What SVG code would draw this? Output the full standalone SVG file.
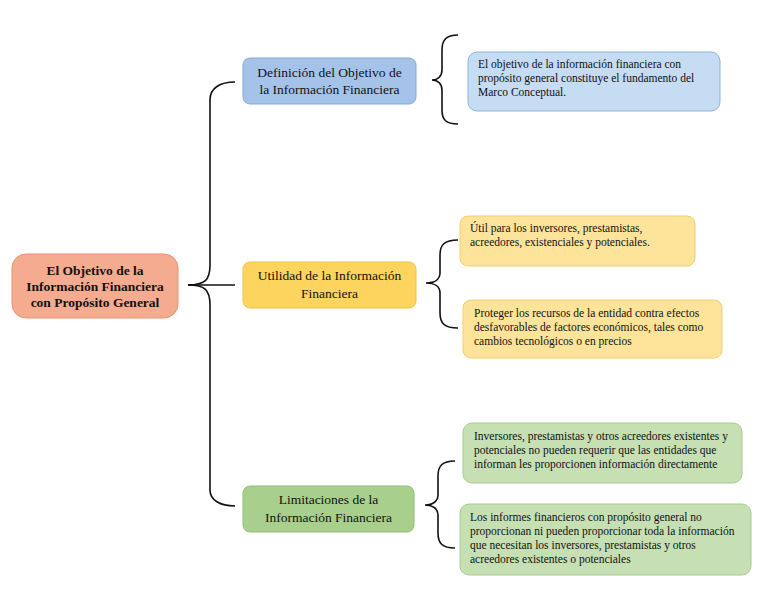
<svg xmlns="http://www.w3.org/2000/svg" width="768" height="594" viewBox="0 0 768 594">
<style>
text{font-family:"Liberation Serif","Times New Roman",serif;fill:#111}
.n{font-size:13.5px;text-anchor:middle}
.t{font-size:11.5px}
.c{fill:none;stroke:#111;stroke-width:1.6}
</style>
<rect width="768" height="594" fill="#fff"/>
<g id="connectors">
<path class="c" d="M188,285 C205,285 210,280 210,265 L210,100 C210,88 220,82 235,82"/>
<path class="c" d="M188,285 C205,285 210,290 210,305 L210,490 C210,500 220,506 235,506"/>
<path class="c" d="M188,285 L235,285"/>
<path class="c" d="M458,35 C446,35 442,40 442,50 L442,70 C442,76 438,80 432,80 C438,80 442,84 442,90 L442,110 C442,120 446,124 458,124"/>
<path class="c" d="M458,240 C444,240 440,245 440,255 L440,273 C440,279 435,283 426,283 C435,283 440,287 440,293 L440,313 C440,323 444,328 458,328"/>
<path class="c" d="M455,461 C442,461 438,466 438,476 L438,495 C438,501 433,505 425,505 C433,505 438,509 438,515 L438,533 C438,543 442,548 455,548"/>
</g>
<g id="root"><rect x="12" y="254" width="166" height="64" rx="14" fill="#f5ab8f" stroke="#e9916e"/>
<text class="n" font-weight="bold" x="95" y="275">El Objetivo de la</text>
<text class="n" font-weight="bold" x="95" y="291">Información Financiera</text>
<text class="n" font-weight="bold" x="95" y="307">con Propósito General</text></g>
<g id="n1"><rect x="243" y="58" width="173" height="46" rx="7" fill="#a5c3e9" stroke="#82a8d6"/>
<text class="n" x="329.5" y="77">Definición del Objetivo de</text>
<text class="n" x="329.5" y="94">la Información Financiera</text></g>
<g id="n2"><rect x="243" y="262" width="173" height="46" rx="7" fill="#fdd45d" stroke="#f0c34a"/>
<text class="n" x="329.5" y="280">Utilidad de la Información</text>
<text class="n" x="329.5" y="298">Financiera</text></g>
<g id="n3"><rect x="243" y="486" width="171" height="46" rx="7" fill="#a8d08c" stroke="#8fbf73"/>
<text class="n" x="328.5" y="504">Limitaciones de la</text>
<text class="n" x="328.5" y="522">Información Financiera</text></g>
<g id="b1"><rect x="468" y="52" width="252" height="59" rx="9" fill="#c6dcf2" stroke="#8fb3dd"/>
<text class="t" x="478" y="68">El objetivo de la información financiera con</text>
<text class="t" x="478" y="82">propósito general constituye el fundamento del</text>
<text class="t" x="478" y="96">Marco Conceptual.</text></g>
<g id="b2"><rect x="460" y="216" width="235" height="50" rx="8" fill="#fee49a" stroke="#f2cf6a"/>
<text class="t" x="470" y="232">Útil para los inversores, prestamistas,</text>
<text class="t" x="470" y="246">acreedores, existenciales y potenciales.</text></g>
<g id="b3"><rect x="463" y="300" width="259" height="58" rx="8" fill="#fee49a" stroke="#f2cf6a"/>
<text class="t" x="474" y="317">Proteger los recursos de la entidad contra efectos</text>
<text class="t" x="474" y="331">desfavorables de factores económicos, tales como</text>
<text class="t" x="474" y="345">cambios tecnológicos o en precios</text></g>
<g id="b4"><rect x="463" y="423" width="279" height="60" rx="9" fill="#c6e0b4" stroke="#a5cd8d"/>
<text class="t" x="474" y="440">Inversores, prestamistas y otros acreedores existentes y</text>
<text class="t" x="474" y="454">potenciales no pueden requerir que las entidades que</text>
<text class="t" x="474" y="468">informan les proporcionen información directamente</text></g>
<g id="b5"><rect x="460" y="504" width="291" height="71" rx="9" fill="#c6e0b4" stroke="#a5cd8d"/>
<text class="t" x="470" y="521">Los informes financieros con propósito general no</text>
<text class="t" x="470" y="535">proporcionan ni pueden proporcionar toda la información</text>
<text class="t" x="470" y="549">que necesitan los inversores, prestamistas y otros</text>
<text class="t" x="470" y="563">acreedores existentes o potenciales</text></g>
</svg>
